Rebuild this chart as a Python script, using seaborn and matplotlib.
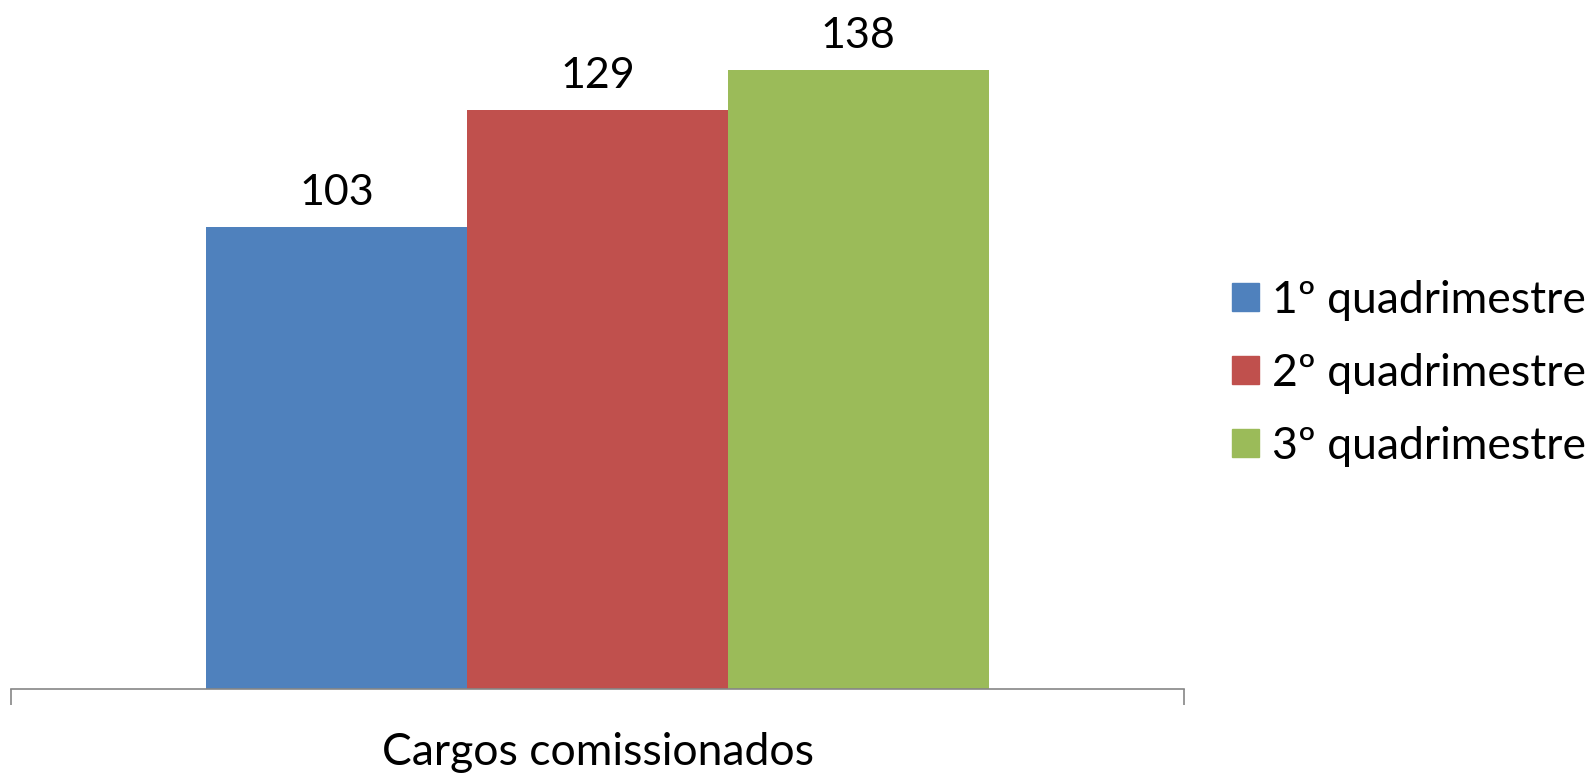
import pandas as pd
import matplotlib.pyplot as plt
import seaborn as sns

# Data
categorias = ["Cargos comissionados"]
periodos = ["1º quadrimestre", "2º quadrimestre", "3º quadrimestre"]
valores = [103, 129, 138]
cores = ["#4F81BD", "#C0504D", "#9BBB59"]

df = pd.DataFrame(
    {
        "categoria": categorias * len(periodos),
        "periodo": periodos,
        "valor": valores,
    }
)

sns.set_theme(style="white")
plt.rcParams["font.family"] = ["Lato", "DejaVu Sans"]
plt.rcParams["text.color"] = "black"
plt.rcParams["xtick.color"] = "black"

fig = plt.figure(figsize=(15.94, 7.74), dpi=100)
ax = fig.add_axes([0.0069, 0.1098, 0.7359, 0.8902])

sns.barplot(
    data=df,
    x="categoria",
    y="valor",
    hue="periodo",
    palette=cores,
    width=0.667,
    saturation=1,
    linewidth=0,
    ax=ax,
    legend=False,
)

for cont in ax.containers:
    ax.bar_label(cont, fontsize=31, padding=11, color="black")

ax.set_xlim(-0.5, 0.5)
ax.set_ylim(0, 153.6)
ax.set_xlabel("")
ax.set_ylabel("")
ax.set_yticks([])

# ticks at the group borders, category label in the middle
ax.set_xticks([-0.5, 0.5])
ax.set_xticklabels(["", ""])
ax.tick_params(axis="x", which="major", length=11.5, width=1.2, color="#868686", bottom=True)
ax.set_xticks([0], minor=True)
ax.set_xticklabels(categorias, minor=True, fontsize=32, color="black")
ax.tick_params(axis="x", which="minor", length=0, pad=31)

for s in ["top", "right", "left"]:
    ax.spines[s].set_visible(False)
ax.spines["bottom"].set_color("#868686")
ax.spines["bottom"].set_linewidth(1.2)

handles = [plt.Rectangle((0, 0), 1, 1, color=c) for c in cores]
fig.legend(
    handles,
    periodos,
    loc="center left",
    bbox_to_anchor=(0.762, 0.518),
    frameon=False,
    fontsize=32,
    handlelength=0.6,
    handleheight=0.6,
    handletextpad=0.3,
    labelspacing=0.72,
    borderaxespad=0,
)

fig.savefig("out.png", dpi=100)
